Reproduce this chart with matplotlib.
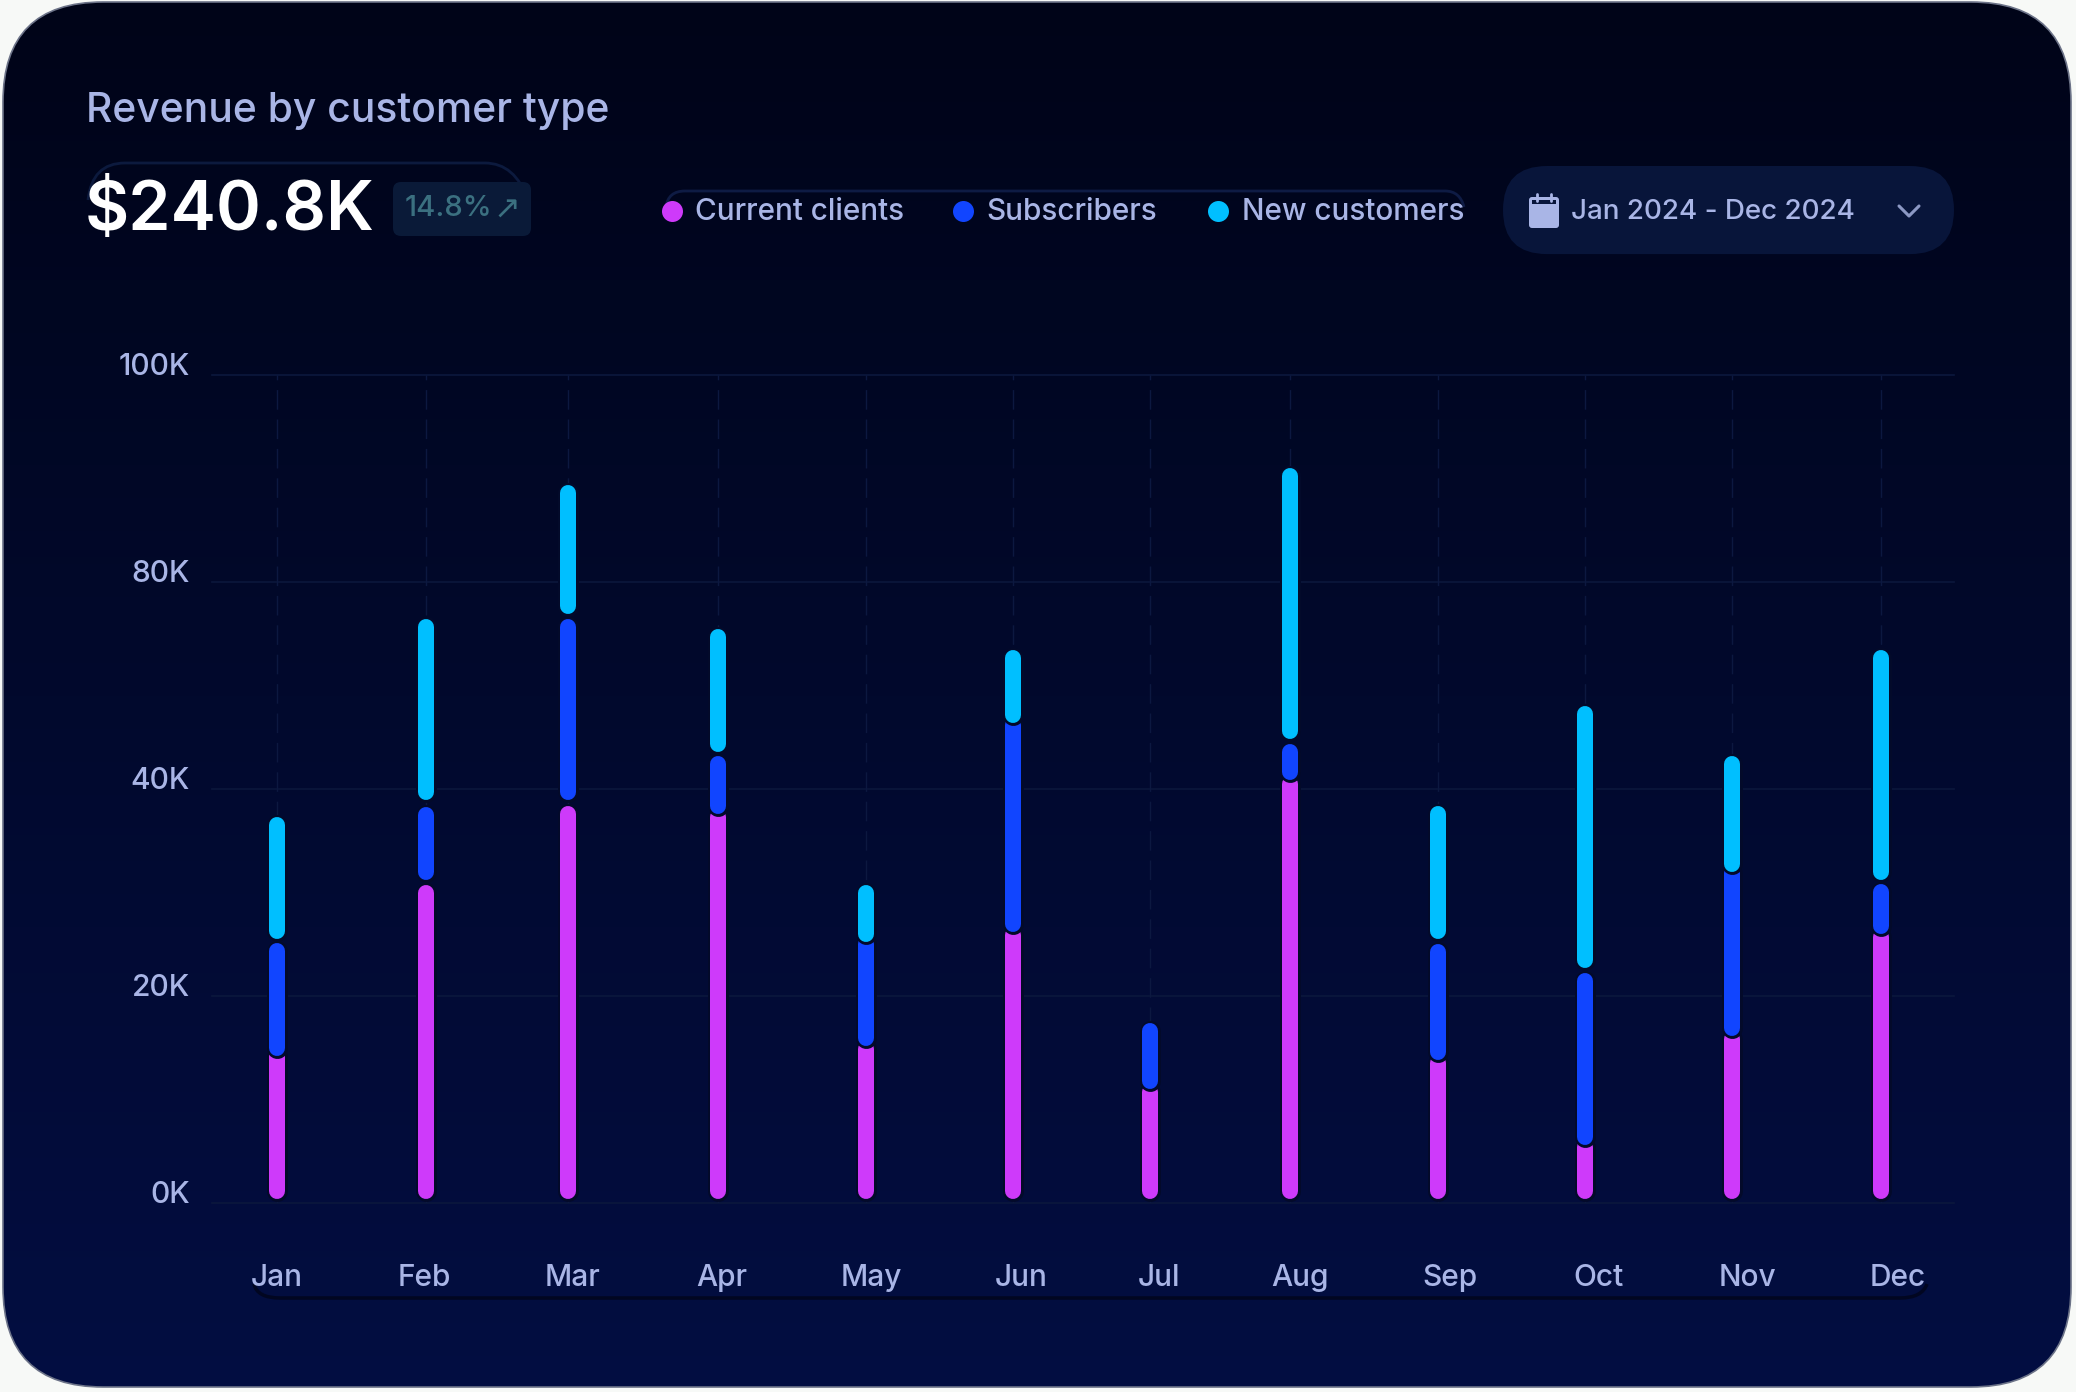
import numpy as np
import matplotlib
matplotlib.use("Agg")
import matplotlib.pyplot as plt
from matplotlib.patches import FancyBboxPatch, PathPatch, Rectangle
from matplotlib.path import Path
from matplotlib.transforms import ScaledTranslation

# ---------- data ----------
months = ["Jan", "Feb", "Mar", "Apr", "May", "Jun", "Jul", "Aug", "Sep", "Oct", "Nov", "Dec"]
series_names = ["Current clients", "Subscribers", "New customers"]
y_ticks = [0, 20, 40, 80, 100]
y_tick_labels = ["0K", "20K", "40K", "80K", "100K"]
total_label = "$240.8K"
change_label = "14.8%"
date_label = "Jan 2024 - Dec 2024"

clients_low = [0.4] * 12
clients_top = [14.8, 30.5, 38.2, 37.9, 15.5, 26.5, 11.3, 42.2, 14.1, 6.0, 16.4, 26.3]
subs_low = [14.2, 31.2, 38.9, 37.6, 15.2, 26.2, 11.0, 41.8, 13.8, 5.6, 16.1, 26.0]
subs_top = [24.9, 38.1, 72.5, 45.9, 25.6, 53.6, 17.2, 48.4, 24.8, 22.0, 32.5, 30.6]
new_low = [25.5, 38.9, 73.8, 47.2, 25.2, 52.8, np.nan, 49.7, 25.5, 22.7, 32.0, 31.2]
new_top = [37.1, 72.5, 89.2, 70.5, 30.5, 66.4, np.nan, 90.8, 38.2, 55.6, 45.9, 66.4]

# ---------- layout (month slots; bars and labels drift apart in the reference) ----------
bar_slots = [0, 1.005, 1.96, 2.97, 3.97, 4.96, 5.89, 6.83, 7.83, 8.82, 9.81, 10.82]
label_slots = [0, 0.99, 1.99, 3.0, 4.01, 5.02, 5.95, 6.9, 7.91, 8.91, 9.92, 10.93]

W, H = 2076, 1392
DPI = 100
PX = 72 / DPI
FONT = ["Inter", "DejaVu Sans"]
plt.rcParams["font.family"] = FONT
plt.rcParams["font.weight"] = "medium"

C_CLIENTS, C_SUBS, C_NEW = "#CE3AFA", "#1145FF", "#00BFFF"
C_TEXT = "#A9B5E6"
C_GRID = "#0B173C"
C_HALO = "#030A2A"

fig = plt.figure(figsize=(W / DPI, H / DPI), dpi=DPI, facecolor="#F7F9F7")

# ---------- card, header (pixel space) ----------
bg = fig.add_axes([0, 0, 1, 1], zorder=0)
bg.set_xlim(0, W)
bg.set_ylim(H, 0)
bg.axis("off")

card = FancyBboxPatch((3 + 100, 2 + 100), 2068 - 200, 1385 - 200,
                      boxstyle="round,pad=100,rounding_size=100",
                      fc="none", ec="#6C7388", lw=1.2, zorder=3)
bg.add_patch(card)
grad = np.linspace(0, 1, 256).reshape(-1, 1, 1)
top = np.array([0x00, 0x04, 0x18]) / 255
bot = np.array([0x03, 0x0E, 0x42]) / 255
img = top + (bot - top) * grad
im = bg.imshow(img, extent=[0, W, H, 0], aspect="auto", zorder=1, interpolation="bilinear")
im.set_clip_path(card)
bg.set_xlim(0, W)
bg.set_ylim(H, 0)


def stroke(points, codes, color, lw=1.5):
    bg.add_patch(PathPatch(Path(points, codes), fc="none", ec=color, lw=lw * PX * 1.4, zorder=4))


M, L, Q = Path.MOVETO, Path.LINETO, Path.CURVE3
# faint partial outlines around the header groups
stroke([(88, 200), (92, 163), (125, 163), (485, 163), (515, 163), (528, 200)],
       [M, Q, Q, L, Q, Q], "#0C1A3E", 2)
stroke([(666, 207), (668, 191), (685, 191), (1445, 191), (1460, 191), (1464, 207)],
       [M, Q, Q, L, Q, Q], "#0E1B44", 2)
# dark rail beneath the month labels
stroke([(254, 1284), (257, 1298), (280, 1298), (1900, 1298), (1922, 1298), (1927, 1284)],
       [M, Q, Q, L, Q, Q], "#010621", 2.5)

bg.text(86, 111, "Revenue by customer type", color=C_TEXT, fontsize=29.4, va="center", ha="left", zorder=5)
bg.text(85, 212, total_label, color="white", fontsize=49, fontweight="semibold",
        va="center", ha="left", zorder=5)

# badge
bg.add_patch(FancyBboxPatch((401, 190), 122, 38, boxstyle="round,pad=8,rounding_size=8",
                            fc="#0A1A38", ec="none", zorder=4))
bg.text(405, 209, change_label, color="#3B7080", fontsize=21, va="center", ha="left", zorder=5)
bg.text(507, 209, "↗", color="#3B7080", fontsize=23, va="center", ha="center", zorder=5,
        family=["DejaVu Sans"])

# legend
for cx, tx, name, col in zip([672, 963, 1218], [695, 986, 1242], series_names,
                             [C_CLIENTS, C_SUBS, C_NEW]):
    bg.scatter([cx], [211], s=(21 * PX) ** 2, color=col, linewidths=0, zorder=5)
    bg.text(tx, 212, name, color=C_TEXT, fontsize=21.4, va="center", ha="left", zorder=5)

# date pill
bg.add_patch(FancyBboxPatch((1547, 210), 363, 0.1, boxstyle="round,pad=44,rounding_size=44",
                            fc="#08153A", ec="none", zorder=4))
bg.text(1571, 212, date_label, color=C_TEXT, fontsize=20, va="center", ha="left", zorder=5)
# calendar icon
bg.add_patch(FancyBboxPatch((1532, 200), 24, 25, boxstyle="round,pad=3,rounding_size=3",
                            fc=C_TEXT, ec="none", zorder=5))
bg.add_patch(Rectangle((1532, 200), 24, 4, fc="#08153A", ec="none", zorder=6))
for vx in (1537, 1551):
    bg.plot([vx, vx], [194, 201], color=C_TEXT, lw=2 * PX * 1.4, zorder=6, solid_capstyle="round")
# chevron
bg.plot([1899, 1909, 1919], [206, 216, 206], color="#8C98C4", lw=2.2 * PX * 1.4, zorder=5,
        solid_capstyle="round", solid_joinstyle="round")

# ---------- chart ----------
ax = fig.add_axes([212 / W, 1 - 1203 / H, (1954 - 212) / W, (1203 - 375) / H], zorder=2)
ax.patch.set_alpha(0)


def forward(v):
    return np.interp(v, y_ticks, np.arange(len(y_ticks)))


def inverse(t):
    return np.interp(t, np.arange(len(y_ticks)), y_ticks)


ax.set_yscale("function", functions=(forward, inverse))
ax.set_ylim(0, 100)
ax.set_xlim(-0.44, 11.31)
ax.set_yticks(y_ticks)
ax.set_yticklabels(y_tick_labels)
ax.minorticks_off()
ax.set_xticks(label_slots)
ax.set_xticklabels(months)
for s in ax.spines.values():
    s.set_visible(False)
ax.tick_params(axis="both", length=0, labelcolor=C_TEXT, labelsize=21.5)
ax.tick_params(axis="y", pad=22 * PX)
ax.tick_params(axis="x", pad=61 * PX)

offset = ScaledTranslation(0, 11 / DPI, fig.dpi_scale_trans)
for lab in ax.get_yticklabels():
    lab.set_transform(lab.get_transform() + offset)

for v in y_ticks:
    ax.axhline(v, color=C_GRID, lw=1.2 * PX * 1.4, zorder=1, clip_on=False)
ax.vlines(bar_slots, 0, 100, color="#0C1840", lw=1 * PX * 1.4, linestyles=(0, (14, 7)), zorder=1)

WIDTH = 16
R = WIDTH / 2
TOP_R = R - 2


def inset(lo, hi):
    """Pull the ends in by the cap radius so the rounded bar spans lo..hi."""
    a = ax.transData.transform([(0, lo), (0, hi)])
    a[0, 1] += R
    a[1, 1] -= TOP_R
    b = ax.transData.inverted().transform(a)
    return b[0, 1], b[1, 1]


def segment(x, lo, hi, color, z):
    if np.isnan(lo) or np.isnan(hi):
        return
    y0, y1 = inset(lo, hi)
    ax.plot([x, x], [y0, y1], color=C_HALO, lw=(WIDTH + 5) * PX, solid_capstyle="round", zorder=z)
    ax.plot([x, x], [y0, y1], color=color, lw=WIDTH * PX, solid_capstyle="round", zorder=z + 0.5)


for i, x in enumerate(bar_slots):
    segment(x, clients_low[i], clients_top[i], C_CLIENTS, 3)
    segment(x, subs_low[i], subs_top[i], C_SUBS, 5)
    segment(x, new_low[i], new_top[i], C_NEW, 7)

fig.savefig("out.png", dpi=DPI, facecolor=fig.get_facecolor())
